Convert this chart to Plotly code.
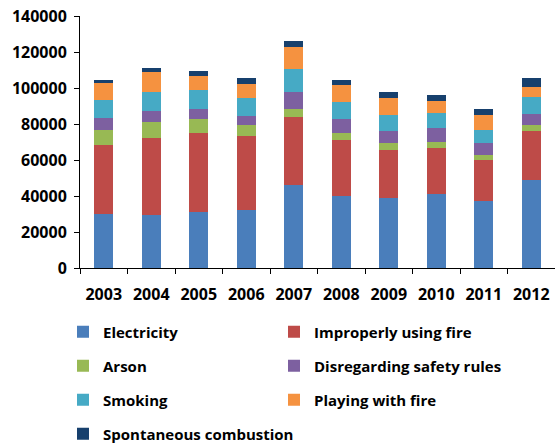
import plotly.graph_objects as go

years = ["2003", "2004", "2005", "2006", "2007", "2008", "2009", "2010", "2011", "2012"]
electricity = [30000, 29400, 31100, 32200, 45900, 40200, 39100, 41300, 37400, 48700]
improper_fire = [38500, 43000, 43900, 41300, 37800, 31100, 26600, 25600, 22600, 27400]
arson = [8200, 8500, 7600, 5800, 4600, 3700, 3700, 3300, 2800, 3200]
disregarding = [6400, 6500, 5700, 5300, 9300, 7600, 6700, 7700, 6800, 6400]
smoking = [10200, 10200, 10400, 9800, 13000, 9600, 9100, 8000, 7300, 9300]
playing = [9700, 11300, 8000, 8000, 12200, 9700, 9100, 6700, 8300, 5700]
spontaneous = [1400, 2000, 2700, 3200, 3100, 2500, 3300, 3500, 3300, 5000]

series = [
    ("Electricity", electricity, "#4A7EBB"),
    ("Improperly using fire", improper_fire, "#BE4B48"),
    ("Arson", arson, "#98B954"),
    ("Disregarding safety rules", disregarding, "#7D60A0"),
    ("Smoking", smoking, "#46AAC5"),
    ("Playing with fire", playing, "#F59240"),
    ("Spontaneous combustion", spontaneous, "#17406D"),
]

tick_font = dict(family="Open Sans, sans-serif", size=16, color="#000000", weight="bold")
leg_font = dict(family="Open Sans, sans-serif", size=15, color="#000000", weight="bold")
W, H = 555, 445
ml, mr, mt, mb = 80, 0, 16, 177

# legend slot positions (pixel) : column left x, row center y
col_x = [63, 274]
row_y = [332, 366, 400, 434]

fig = go.Figure()
legends = {}
for i, (name, vals, color) in enumerate(series):
    key = "legend" if i == 0 else f"legend{i + 1}"
    fig.add_trace(go.Bar(x=years, y=vals, name=name, marker=dict(color=color, line=dict(width=0)),
                         legend=key, showlegend=True))
    cx = col_x[i % 2]
    cy = row_y[i // 2]
    legends[key] = dict(orientation="h", xref="container", yref="container",
                        x=cx / W, xanchor="left", y=(H - cy) / H, yanchor="middle",
                        font=leg_font, bgcolor="rgba(0,0,0,0)", itemwidth=30)

fig.update_layout(
    width=W, height=H,
    margin=dict(l=ml, r=mr, t=mt, b=mb, autoexpand=False),
    barmode="stack", bargap=0.6,
    plot_bgcolor="white", paper_bgcolor="white",
    font=leg_font,
    showlegend=True,
    **legends,
    xaxis=dict(type="category", showline=True, linecolor="#000000", linewidth=1,
               ticks="outside", tickson="boundaries", ticklen=5, tickcolor="#000000",
               tickfont=tick_font, showgrid=False, ticklabelstandoff=12, tickangle=0),
    yaxis=dict(range=[0, 140000], dtick=20000, showline=True, linecolor="#000000", linewidth=1,
               ticks="outside", ticklen=5, tickcolor="#000000", tickfont=tick_font,
               showgrid=False, zeroline=False, tickformat="d", ticklabelstandoff=4),
)

fig.write_html("out.html")
